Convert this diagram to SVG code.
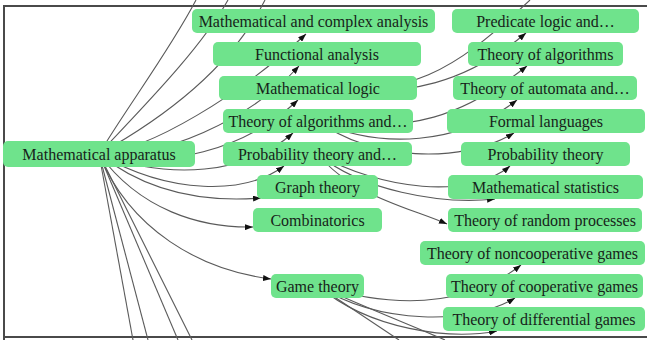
<svg xmlns="http://www.w3.org/2000/svg" width="647" height="340" viewBox="0 0 647 340">
<style>
.e{fill:none;stroke:#5a5a5a;stroke-width:1.1}
.n rect{fill:#6fe38c;stroke:none}
.n text{font-family:"Liberation Serif","Times New Roman",serif;font-size:16px;fill:#17231a;text-anchor:middle}
.frame{fill:none;stroke:#4a4a4a;stroke-width:2}
</style>
<defs>
<marker id="ah" markerUnits="userSpaceOnUse" markerWidth="8" markerHeight="6" refX="8" refY="3" orient="auto">
<path d="M0,0 L8,3 L0,6 z" fill="#111"/>
</marker>
</defs>
<rect x="0" y="0" width="647" height="340" fill="#fff"/>
<path class="frame" d="M4,340 V6 H647 M4,337 H647"/>
<g id="connectors">
<path class="e" marker-end="url(#ah)" d="M99,154 C150,150 240,95 306,34"/>
<path class="e" marker-end="url(#ah)" d="M99,154 C160,160 250,120 299,66"/>
<path class="e" marker-end="url(#ah)" d="M99,154 C165,170 245,150 298,100"/>
<path class="e" marker-end="url(#ah)" d="M99,154 C170,180 245,175 293,133"/>
<path class="e" marker-end="url(#ah)" d="M99,154 C170,195 245,195 284,166"/>
<path class="e" marker-end="url(#ah)" d="M99,154 C150,195 210,202 261,198"/>
<path class="e" marker-end="url(#ah)" d="M99,154 C140,210 200,228 253,227"/>
<path class="e" marker-end="url(#ah)" d="M99,154 C130,230 200,270 271,279"/>
<path class="e" d="M99,154 C125,110 170,50 196,0"/>
<path class="e" d="M99,154 C140,110 200,50 228,0"/>
<path class="e" d="M99,154 C160,120 230,70 265,0"/>
<path class="e" d="M99,154 L133,340"/>
<path class="e" d="M99,154 L148,340"/>
<path class="e" d="M99,154 L178,340"/>
<path class="e" d="M99,154 L192,340"/>
<path class="e" d="M318,88 C410,95 450,75 530,0"/>
<path class="e" marker-end="url(#ah)" d="M318,88 C410,100 470,80 526,33"/>
<path class="e" marker-end="url(#ah)" d="M318,121 C410,135 465,115 527,66"/>
<path class="e" marker-end="url(#ah)" d="M318,121 C380,150 460,145 517,100"/>
<path class="e" marker-end="url(#ah)" d="M318,121 C370,160 460,165 514,133"/>
<path class="e" marker-end="url(#ah)" d="M318,154 C380,190 470,200 510,166"/>
<path class="e" marker-end="url(#ah)" d="M318,154 C360,190 440,205 495,199"/>
<path class="e" marker-end="url(#ah)" d="M318,154 C350,195 410,208 447,224"/>
<path class="e" marker-end="url(#ah)" d="M318,286 C400,310 470,305 521,265"/>
<path class="e" marker-end="url(#ah)" d="M318,286 C380,325 470,325 515,298"/>
<path class="e" marker-end="url(#ah)" d="M318,286 C370,330 450,340 497,331"/>
<path class="e" d="M318,286 L399,340"/>
<path class="e" d="M318,286 C360,305 410,325 445,340"/>
</g>
<g id="n-root" class="n"><rect x="3" y="141" width="192" height="26" rx="5"/><text x="99" y="159.5">Mathematical apparatus</text></g>
<g id="n-mca" class="n"><rect x="192" y="9" width="243" height="24" rx="5"/><text x="313.5" y="26.5">Mathematical and complex analysis</text></g>
<g id="n-fa" class="n"><rect x="213" y="42" width="208" height="24" rx="5"/><text x="317" y="59.5">Functional analysis</text></g>
<g id="n-ml" class="n"><rect x="219" y="76" width="198" height="24" rx="5"/><text x="318" y="93.5">Mathematical logic</text></g>
<g id="n-taa" class="n"><rect x="223" y="109" width="190" height="24" rx="5"/><text x="318" y="126.5">Theory of algorithms and…</text></g>
<g id="n-pta" class="n"><rect x="223" y="142" width="189" height="24" rx="5"/><text x="317.5" y="159.5">Probability theory and…</text></g>
<g id="n-gt" class="n"><rect x="257" y="175" width="121" height="24" rx="5"/><text x="317.5" y="192.5">Graph theory</text></g>
<g id="n-comb" class="n"><rect x="253" y="208" width="129" height="24" rx="5"/><text x="317.5" y="225.5">Combinatorics</text></g>
<g id="n-game" class="n"><rect x="271" y="274" width="93" height="24" rx="5"/><text x="317.5" y="291.5">Game theory</text></g>
<g id="n-pl" class="n"><rect x="452" y="9" width="187" height="24" rx="5"/><text x="545.5" y="26.5">Predicate logic and…</text></g>
<g id="n-toa" class="n"><rect x="468" y="42" width="155" height="24" rx="5"/><text x="545.5" y="59.5">Theory of algorithms</text></g>
<g id="n-taut" class="n"><rect x="453" y="76" width="184" height="24" rx="5"/><text x="545" y="93.5">Theory of automata and…</text></g>
<g id="n-fl" class="n"><rect x="447" y="109" width="198" height="24" rx="5"/><text x="546" y="126.5">Formal languages</text></g>
<g id="n-pt" class="n"><rect x="461" y="142" width="169" height="24" rx="5"/><text x="545.5" y="159.5">Probability theory</text></g>
<g id="n-ms" class="n"><rect x="448" y="175" width="195" height="24" rx="5"/><text x="545.5" y="192.5">Mathematical statistics</text></g>
<g id="n-trp" class="n"><rect x="448" y="208" width="194" height="24" rx="5"/><text x="545" y="225.5">Theory of random processes</text></g>
<g id="n-tng" class="n"><rect x="420" y="241" width="225" height="24" rx="5"/><text x="532.5" y="258.5">Theory of noncooperative games</text></g>
<g id="n-tcg" class="n"><rect x="446" y="274" width="197" height="24" rx="5"/><text x="544.5" y="291.5">Theory of cooperative games</text></g>
<g id="n-tdg" class="n"><rect x="443" y="307" width="202" height="24" rx="5"/><text x="544" y="324.5">Theory of differential games</text></g>
</svg>
